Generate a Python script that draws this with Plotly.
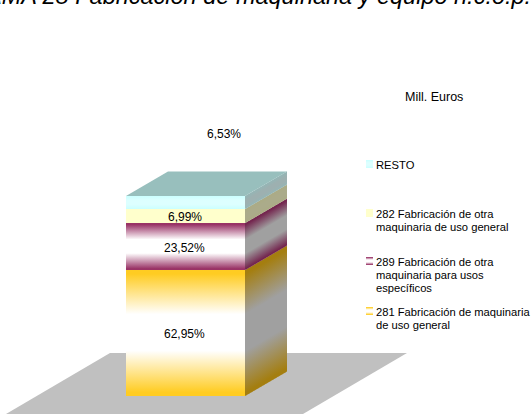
import plotly.graph_objects as go

# ---- data (bottom to top of the stack) ----
categories = ["281 Fabricación de maquinaria de uso general",
              "289 Fabricación de otra maquinaria para usos específicos",
              "282 Fabricación de otra maquinaria de uso general",
              "RESTO"]
shares = [62.95, 23.52, 6.99, 6.53]
share_labels = ["62,95%", "23,52%", "6,99%", "6,53%"]
legend_lines = [["281 Fabricación de maquinaria", "de uso general"],
                ["289 Fabricación de otra", "maquinaria para usos", "específicos"],
                ["282 Fabricación de otra", "maquinaria de uso general"],
                ["RESTO"]]
title_text = "RAMA 28 Fabricación de maquinaria y equipo n.c.o.p."
unit_text = "Mill. Euros"

# ---- styles ----
W, H = 531, 416
edge_colors = ["#FFCC22", "#993366", "#FFFFCC", "#CCFFFF"]
mid_colors = ["#FFFFFF", "#FFFFFF", "#FFFFCC", "#DDFFFF"]
side_edge = ["#A47E10", "#74264F", "#ABAB85", "#95B5B5"]
side_mid = ["#A0A0A0", "#A0A0A0", "#ABAB8A", "#9DB0B0"]
top_color = "#98BFBD"
floor_color = "#C0C0C0"
FONT = "Liberation Sans, Arial, sans-serif"

PX_PER_UNIT = 2.0
BASE_PX = 396
Y0 = (BASE_PX - H) / PX_PER_UNIT
Y1 = BASE_PX / PX_PER_UNIT
def py(px):
    return (BASE_PX - px) / PX_PER_UNIT

XL, XR = 126, 245
DX, DY = 42, 24.5 / PX_PER_UNIT

def grad(c_edge, c_mid, start, stop):
    return dict(type="vertical", start=start, stop=stop,
                colorscale=[[0, c_edge], [0.03, c_edge], [0.36, c_mid], [0.65, c_mid], [0.97, c_edge], [1, c_edge]])

fig = go.Figure()
def poly(xs, ys, **kw):
    fig.add_trace(go.Scatter(x=xs + xs[:1], y=ys + ys[:1], mode="lines", line=dict(width=0),
                             fill="toself", hoverinfo="skip", showlegend=False, **kw))

# floor
poly([6, 110, 407, 303], [py(414), py(353), py(353), py(414)], fillcolor=floor_color)

# stack
bottom = 0.0
bands = []
for v in shares:
    bands.append((bottom, bottom + v))
    bottom += v

for i, (lo, hi) in enumerate(bands):
    # front face
    poly([XL, XR, XR, XL], [lo, lo, hi, hi],
         fillgradient=grad(edge_colors[i], mid_colors[i], lo, hi))
    # side face as thin slices so the bands follow the slant
    for s in range(DX):
        dy0 = DY * s / DX
        dy1 = DY * (s + 1.4) / DX
        x0, x1 = XR + s, min(XR + s + 1.4, XR + DX)
        poly([x0, x1, x1, x0], [lo + dy0, lo + dy1, hi + dy1, hi + dy0],
             fillgradient=grad(side_edge[i], side_mid[i], lo + dy0, hi + dy0))

# top face
top = bottom
poly([XL, XR, XR + DX, XL + DX], [top, top, top + DY, top + DY], fillcolor=top_color)

annotations = []
def text(x, y, s, size, anchor="left", **kw):
    annotations.append(dict(x=x, y=py(y), text=s, showarrow=False, xanchor=anchor, yanchor="middle",
                            xref="x", yref="y", font=dict(family=FONT, size=size, color="#000000"), **kw))

# value labels
for i, (lo, hi) in enumerate(bands[:3]):
    annotations.append(dict(x=(XL + XR) / 2 - 1, y=(lo + hi) / 2 - 0.5, text=share_labels[i], showarrow=False,
                            xanchor="center", yanchor="middle",
                            font=dict(family=FONT, size=12, color="#000000")))
text(224, 134, share_labels[3], 12, "center")

# legend
legend_y = [311, 261, 213, 164]
LINE = 13.4
for i, lines in enumerate(legend_lines):
    yc = legend_y[i]
    for n, ln in enumerate(lines):
        text(374, yc + n * LINE + 0.5, ln, 11.2)
    half = 4
    poly([366, 373, 373, 366], [py(yc + half), py(yc + half), py(yc - half), py(yc - half)],
         fillgradient=grad(edge_colors[i], mid_colors[i], py(yc + half), py(yc - half)))

text(434, 97, unit_text, 12.5, "center")
annotations.append(dict(x=250, y=1 + 4 / H, xref="x", yref="paper", text="<i>" + title_text + "</i>",
                        showarrow=False, xanchor="center", yanchor="middle",
                        font=dict(family=FONT, size=23.5, color="#000000")))

fig.update_layout(
    width=W, height=H, margin=dict(l=0, r=0, t=0, b=0), autosize=False,
    paper_bgcolor="#FFFFFF", plot_bgcolor="#FFFFFF", showlegend=False,
    xaxis=dict(range=[0, W], visible=False, fixedrange=True),
    yaxis=dict(range=[Y0, Y1], visible=False, fixedrange=True),
    annotations=annotations,
)
fig.write_html("out.html", config=dict(displayModeBar=False),
               post_script="document.body.style.margin='0';document.documentElement.style.overflow='hidden';")
